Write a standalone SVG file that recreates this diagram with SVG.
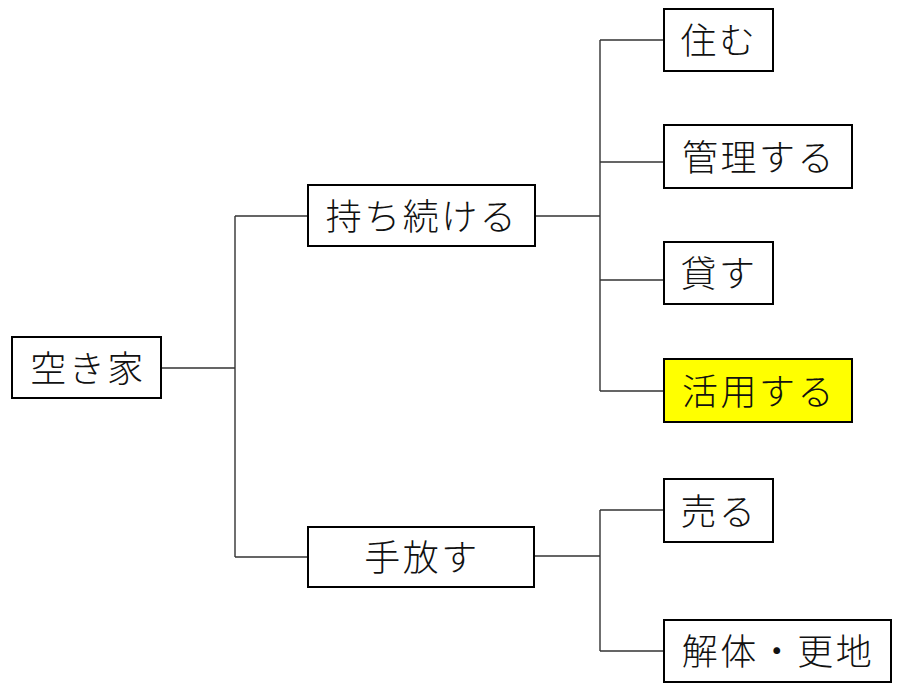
<svg xmlns="http://www.w3.org/2000/svg" width="900" height="690" viewBox="0 0 900 690">
<style>
.box{fill:#ffffff;stroke:#000000;stroke-width:2}
.hl{fill:#ffff00}
.t{font-family:"Noto Sans CJK JP","Noto Sans CJK SC",sans-serif;font-size:36px;font-weight:300;fill:#111111;text-anchor:middle;dominant-baseline:central;letter-spacing:2.5px}
.c{fill:none;stroke:#333333;stroke-width:1.4}
</style>
<rect width="900" height="690" fill="#ffffff"/>
<g id="connectors">
<path class="c" d="M161 368H235M235 216V557M235 216H308M235 557H308"/>
<path class="c" d="M536 216H600M600 40V391M600 40H664M600 162H664M600 280H664M600 391H664" />
<path class="c" d="M534 556H600M600 510V651M600 510H664M600 651H664"/>
</g>
<g id="akiya"><rect class="box" x="12" y="337" width="149" height="61"/><text class="t" x="88" y="366">空き家</text></g>
<g id="mochitsuzukeru"><rect class="box" x="308" y="185" width="227" height="61"/><text class="t" x="422" y="214">持ち続ける</text></g>
<g id="tebanasu"><rect class="box" x="308" y="527" width="226" height="60"/><text class="t" x="422" y="555">手放す</text></g>
<g id="sumu"><rect class="box" x="664" y="9" width="109" height="62"/><text class="t" x="719" y="38">住む</text></g>
<g id="kanri"><rect class="box" x="664" y="125" width="188" height="63"/><text class="t" x="759" y="155">管理する</text></g>
<g id="kasu"><rect class="box" x="664" y="242" width="109" height="62"/><text class="t" x="719" y="271">貸す</text></g>
<g id="katsuyou"><rect class="box hl" x="664" y="359" width="188" height="63"/><text class="t" x="759" y="389">活用する</text></g>
<g id="uru"><rect class="box" x="664" y="479" width="109" height="63"/><text class="t" x="719" y="509">売る</text></g>
<g id="kaitai"><rect class="box" x="664" y="620" width="227" height="62"/><text class="t" x="778" y="649">解体・更地</text></g>
</svg>
